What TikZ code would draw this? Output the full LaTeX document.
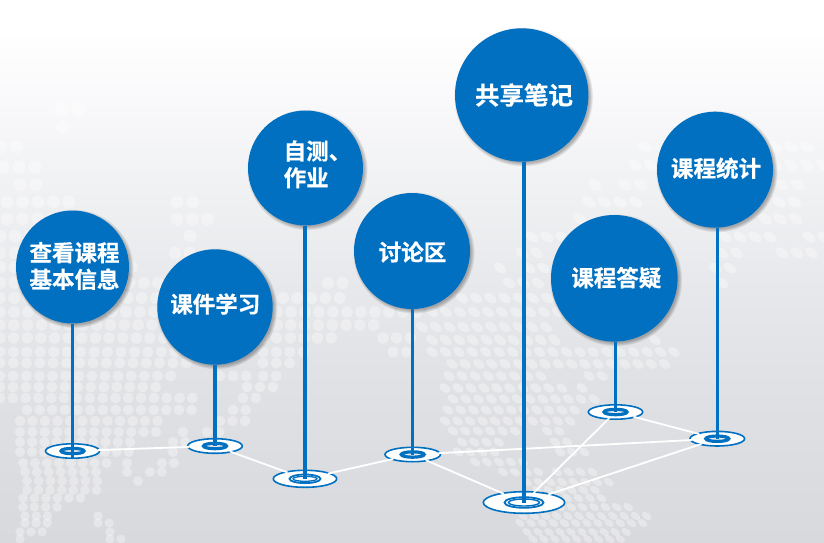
\documentclass[tikz,border=0pt]{standalone}
\usepackage{fontspec}
\newfontfamily\cjk[FakeBold=0.6]{Noto Sans CJK SC Bold}
\usetikzlibrary{shapes.geometric}
\definecolor{pinblue}{RGB}{1,112,192}
\pgfdeclareverticalshading{bgshade}{100bp}{
  color(0bp)=(rgb,255:red,216;green,217;blue,221);
  color(25bp)=(rgb,255:red,216;green,217;blue,221);
  color(38bp)=(rgb,255:red,223;green,224;blue,227);
  color(47.4bp)=(rgb,255:red,230;green,231;blue,234);
  color(56.6bp)=(rgb,255:red,239;green,240;blue,242);
  color(65.8bp)=(rgb,255:red,249;green,249;blue,251);
  color(72.2bp)=(rgb,255:red,255;green,255;blue,255);
  color(75bp)=(rgb,255:red,255;green,255;blue,255);
  color(100bp)=(rgb,255:red,255;green,255;blue,255)}
\tikzset{
  pinhead/.style={circle,fill=pinblue,draw=none,inner sep=0pt,outer sep=0pt},
  pinlabel/.style={font=\cjk\fontsize{22.5}{26.7}\selectfont,text=white,inner sep=0pt,align=left},
  ring/.style={ellipse,draw=pinblue,fill=white,line width=1.6pt,inner sep=0pt,outer sep=0pt},
  hub/.style={ellipse,draw=pinblue,fill=white!85!gray,line width=3.2pt,inner sep=0pt,outer sep=0pt,minimum width=23pt,minimum height=5.4pt},
  hubbig/.style={ellipse,draw=pinblue,fill=white,line width=1.8pt,inner sep=0pt,outer sep=0pt},
  link/.style={draw=white,line width=1.8pt,shorten >=-1.4pt,shorten <=-1.4pt},
  pole/.style={draw=pinblue,line width=3.5pt},
}
% shadow + head
\newcommand{\pinshadow}[3]{%
  \foreach \k in {0,1,2,3,4,5}{%
    \fill[black,opacity=.055] (#1+2,#2+2) circle ({#3+2.6-\k*.7});}}
% row of round dots: y, x0, x1
\newcommand{\roundrows}[1]{%
  \foreach \yy/\xa/\xb in {#1}{%
    \pgfmathsetmacro{\pp}{15.5-(\yy-200)*0.0135}%
    \pgfmathtruncatemacro{\nn}{max(0,round((\xb-\xa)/\pp))}%
    \foreach \i in {0,...,\nn}{%
      \fill[white,opacity=.34] ({\xa+\i*\pp},\yy) circle ({\pp*.42});}}}
% row of slanted dots
\newcommand{\slantrows}[1]{%
  \foreach \yy/\xa/\xb in {#1}{%
    \pgfmathsetmacro{\pp}{15.5-(\yy-200)*0.0135}%
    \pgfmathtruncatemacro{\nn}{max(0,round((\xb-\xa)/\pp))}%
    \foreach \i in {0,...,\nn}{%
      \fill[white,opacity=.34,rotate around={-35:({\xa+\i*\pp},\yy)}] ({\xa+\i*\pp},\yy) ellipse ({\pp*.48} and {\pp*.30});}}}
\begin{document}
\begin{tikzpicture}[x=1pt,y=-1pt]
\useasboundingbox (0,0) rectangle (824,543);
\shade[shading=bgshade] (0,0) rectangle (824,543);
% world map dots, left part
\roundrows{109/62/78,127/63/63,147/0/15,167/3/33,185/20/35,202/7/69,202/177/192,219/7/70,219/177/207,
236/190/190,253/175/190,236/0/60,253/0/60,267/0/133,283/0/163,283/328/343,298/0/167,298/283/343,312/0/167,312/277/410,
325/0/167,325/277/380,338/0/173,338/263/337,338/383/410,352/0/173,352/263/300,352/393/410,363/0/183,363/263/290,
376/0/167,376/220/240,376/263/277,387/0/157,387/247/277,398/0/187,398/243/257,410/27/187,410/233/245,421/20/163,421/220/247,
432/20/150,432/183/183,432/207/217,442/20/130,442/173/183,452/20/130,452/173/173,463/23/107,463/127/127,463/162/173,
472/25/97,472/127/127,472/150/162,481/27/97,481/138/138,490/27/97,498/23/77,507/23/55,516/25/47,516/98/98,
523/25/47,523/98/110,532/20/37,532/110/110,539/20/20,539/110/120}
% world map dots, right part
\slantrows{147/645/645,147/775/809,165/635/652,165/775/815,185/595/595,185/625/642,185/782/799,202/589/634,202/779/795,
219/580/580,219/765/792,237/532/559,237/725/765,237/809/822,253/522/535,253/722/737,253/782/812,268/500/500,268/529/544,
268/715/732,283/509/539,283/722/722,298/462/545,312/432/555,327/422/549,340/432/559,340/655/655,352/432/672,364/452/665,
376/449/545,376/589/605,388/445/562,388/582/582,399/453/593,410/448/573,421/445/567,431/453/517,431/547/562,442/462/498,
442/555/567,452/458/497,452/560/587,462/475/517,472/503/533,472/557/598,482/527/603,490/537/600,498/567/603,507/560/630,
516/523/647,523/520/640,532/527/627,539/533/620}
% shadows
\pinshadow{72.5}{267}{56.5}
\pinshadow{215}{307}{57.7}
\pinshadow{305.5}{168}{57.5}
\pinshadow{412}{251}{58}
\pinshadow{521.7}{95}{66.7}
\pinshadow{614.3}{278.3}{63.3}
\pinshadow{715}{169.7}{58}
% heads
\node[pinhead,minimum size=113pt] (ca) at (72.5,267) {};
\node[pinhead,minimum size=115.4pt] (cb) at (215,307) {};
\node[pinhead,minimum size=115pt] (cc) at (305.5,168) {};
\node[pinhead,minimum size=116pt] (cd) at (412,251) {};
\node[pinhead,minimum size=133.4pt] (ce) at (521.7,95) {};
\node[pinhead,minimum size=126.6pt] (cf) at (614.3,278.3) {};
\node[pinhead,minimum size=116pt] (cg) at (715,169.7) {};
% rings
\node[ring,minimum width=54pt,minimum height=14.4pt] (ra) at (72.5,451) {};
\node[ring,minimum width=54.6pt,minimum height=14.6pt] (rb) at (215,446) {};
\node[ring,minimum width=63.4pt,minimum height=17pt] (rc) at (305,478.8) {};
\node[ring,minimum width=55.4pt,minimum height=14.4pt] (rd) at (412.7,454.5) {};
\node[ring,minimum width=81.4pt,minimum height=21.6pt] (re) at (524,502.5) {};
\node[ring,minimum width=54.4pt,minimum height=14.4pt] (rf) at (615.5,412) {};
\node[ring,minimum width=54.6pt,minimum height=14.6pt] (rg) at (717.3,438.7) {};
% links
\draw[link] (ra) -- (rb);
\draw[link] (rb) -- (rc);
\draw[link] (rc) -- (rd);
\draw[link] (rd) -- (re);
\draw[link] (rd) -- (rg);
\draw[link] (re) -- (rf);
\draw[link] (re) -- (rg);
\draw[link] (rf) -- (rg);
% hubs
\node[hub] (ha) at (ra.center) {};
\node[hub] (hb) at (rb.center) {};
\node[hub] (hd) at (rd.center) {};
\node[hub] (hf) at (rf.center) {};
\node[hub] (hg) at (rg.center) {};
\node[hubbig,minimum width=31pt,minimum height=8.6pt] (hc) at (rc.center) {};
\node[hubbig,line width=1.3pt,minimum width=24pt,minimum height=5pt] (hcc) at (rc.center) {};
\node[hubbig,minimum width=39pt,minimum height=10.6pt] (he) at (re.center) {};
\node[hubbig,line width=1.4pt,minimum width=31pt,minimum height=7pt] (hee) at (re.center) {};
% poles
\draw[pole] (ra.center |- ca.south) -- (ra.south);
\draw[pole] (rb.center |- cb.south) -- (rb.center);
\draw[pole] (rc.center |- cc.south) -- (rc.center);
\draw[pole] (rd.center |- cd.south) -- (rd.center);
\draw[pole] (re.center |- ce.south) -- (re.center);
\draw[pole] (rf.center |- cf.south) -- (rf.center);
\draw[pole] (rg.center |- cg.south) -- (rg.center);
% labels
\node[pinlabel] (ta) at (74.5,266) {查看课程\\基本信息};
\node[pinlabel] (tb) at (215.3,304) {课件学习};
\node[pinlabel,anchor=west] (tc) at (283.5,164.3) {自测、\\作业};
\node[pinlabel] (td) at (412.5,252) {讨论区};
\node[pinlabel,font=\cjk\fontsize{24.5}{28}\selectfont] (te) at (524,95) {共享笔记};
\node[pinlabel] (tf) at (616.3,277.7) {课程答疑};
\node[pinlabel] (tg) at (716,168.3) {课程统计};
\end{tikzpicture}
\end{document}
